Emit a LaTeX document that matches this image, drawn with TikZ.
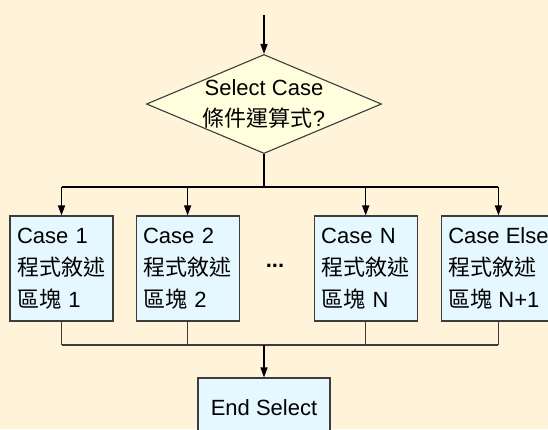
\documentclass[tikz,border=0pt]{standalone}
\usepackage{fontspec}
\setmainfont{Liberation Sans}
\newfontfamily\zhfont{Noto Sans CJK TC}
\usetikzlibrary{positioning, arrows.meta, shapes.geometric}
\definecolor{paperCream}{RGB}{255,243,218}
\definecolor{boxCyan}{RGB}{230,248,255}
\definecolor{decYellow}{RGB}{255,255,222}
\definecolor{edgeGray}{RGB}{60,60,60}
\newcommand{\zh}[1]{{\zhfont #1}}

\begin{document}
\begin{tikzpicture}[
    x=1pt, y=-1pt,
    >={Triangle[length=10pt, width=7pt]},
    node distance=22pt,
    txt/.style={font=\fontsize{22}{32}\selectfont},
    blk/.style={draw=edgeGray, line width=1.1pt, fill=boxCyan, txt,
                minimum height=105pt, inner xsep=7pt, align=left},
    dec/.style={diamond, draw=edgeGray, line width=1.1pt, fill=decYellow,
                minimum width=235pt, minimum height=99pt, inner sep=0pt},
    flow/.style={line width=1.4pt, black},
    wire/.style={line width=1.1pt, edgeGray}
]
\useasboundingbox (0,0) rectangle (548,429);
\fill[paperCream] (0,0) rectangle (548,429);

% ---- decision ----
\coordinate (start) at (264,15);
\node[dec] (sel) at (264,104) {};
\node[font=\fontsize{22}{31}\selectfont, align=center] (seltxt) at (sel)
     {Select Case\\\zh{條件運算式}?};

% ---- case blocks ----
\node[blk, text width=89pt] (c1) at (61.5,268.5)
     {Case 1\\\zh{程式敘述}\\\zh{區塊} 1};
\node[blk, text width=89pt, right=of c1] (c2)
     {Case 2\\\zh{程式敘述}\\\zh{區塊} 2};
\node[blk, text width=89pt, right=74pt of c2] (cn)
     {Case N\\\zh{程式敘述}\\\zh{區塊} N};
\node[blk, minimum width=114pt, right=23pt of cn] (celse)
     {Case Else\\\zh{程式敘述}\\\zh{區塊} N+1};
\node[txt, font=\fontsize{22}{32}\selectfont\bfseries] (dots) at (275,266) {...};

\node[blk, align=center, minimum width=132pt, minimum height=60pt] (endsel)
     at (264,408) {End Select};

% ---- fork above ----
\coordinate (fork) at (264,187);
\draw[flow, ->] (start) -- (sel.north);
\draw[flow] (sel.south) -- (fork);
\draw[flow] (c1.north |- fork) -- (celse.north |- fork);
\foreach \b in {c1, c2, cn, celse}{%
  \draw[flow, ->] (\b.north |- fork) -- (\b.north);
}

% ---- join below ----
\coordinate (join) at (264,345);
\foreach \b in {c1, c2, cn, celse}{%
  \draw[wire] (\b.south) -- (\b.south |- join);
}
\draw[wire] (c1.south |- join) -- (celse.south |- join);
\draw[flow, ->] (join) -- (endsel.north);
\end{tikzpicture}
\end{document}
